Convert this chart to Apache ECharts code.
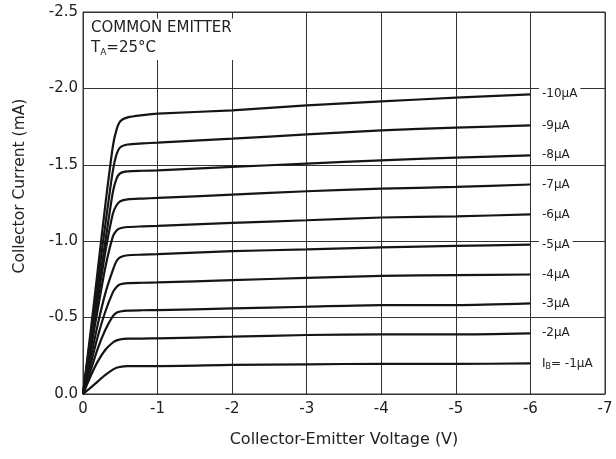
<!DOCTYPE html>
<html>
<head>
<meta charset="utf-8">
<script src="https://cdn.jsdelivr.net/npm/echarts@6/dist/echarts.min.js"></script>
<style>html,body{margin:0;padding:0;background:#fff}#c{width:616px;height:459px}</style>
</head>
<body>
<div id="c"></div>
<script>
// Collector-emitter voltage sample points (V)
const voltages = [0, -0.1, -0.2, -0.3, -0.4, -0.45, -0.5, -0.6, -0.8, -1, -2, -3, -4, -5, -6];
// Collector current (mA) for each base current curve
const ib1  = [0, -0.04, -0.083, -0.125, -0.16, -0.172, -0.178, -0.182, -0.183, -0.183, -0.190, -0.194, -0.198, -0.197, -0.200];
const ib2  = [0, -0.115, -0.215, -0.29, -0.337, -0.351, -0.358, -0.362, -0.363, -0.364, -0.375, -0.386, -0.390, -0.390, -0.397];
const ib3  = [0, -0.15, -0.30, -0.42, -0.51, -0.532, -0.54, -0.546, -0.548, -0.549, -0.560, -0.571, -0.582, -0.582, -0.593];
const ib4  = [0, -0.19, -0.38, -0.54, -0.665, -0.70, -0.718, -0.726, -0.728, -0.730, -0.745, -0.760, -0.773, -0.778, -0.782];
const ib5  = [0, -0.23, -0.46, -0.66, -0.81, -0.87, -0.895, -0.908, -0.912, -0.915, -0.935, -0.946, -0.959, -0.969, -0.978];
const ib6  = [0, -0.28, -0.56, -0.83, -1.03, -1.07, -1.085, -1.093, -1.097, -1.100, -1.120, -1.137, -1.155, -1.163, -1.175];
const ib7  = [0, -0.31, -0.62, -0.93, -1.18, -1.235, -1.262, -1.274, -1.279, -1.283, -1.305, -1.327, -1.344, -1.355, -1.371];
const ib8  = [0, -0.335, -0.67, -1.0, -1.32, -1.41, -1.445, -1.457, -1.461, -1.464, -1.486, -1.508, -1.529, -1.547, -1.562];
const ib9  = [0, -0.37, -0.74, -1.11, -1.46, -1.57, -1.615, -1.633, -1.64, -1.645, -1.671, -1.699, -1.725, -1.743, -1.758];
const ib10 = [0, -0.40, -0.82, -1.24, -1.62, -1.73, -1.785, -1.81, -1.825, -1.835, -1.856, -1.889, -1.915, -1.939, -1.961];
const curves = [ib1, ib2, ib3, ib4, ib5, ib6, ib7, ib8, ib9, ib10];
const curveLabels = ['{a|I}{s|B}{a|= -1μA}', '-2μA', '-3μA', '-4μA', '-5μA', '-6μA', '-7μA', '-8μA', '-9μA', '-10μA'];
const xTicks = [0, -1, -2, -3, -4, -5, -6, -7];

const FONT = 'DejaVu Sans';
const TXT = '#222';

const series = curves.map((c, i) => ({
  type: 'line',
  name: 'curve' + (i + 1),
  data: voltages.map((v, j) => {
    const item = { value: [v, c[j]] };
    if (j === voltages.length - 1) {
      item.label = {
        show: true,
        position: 'right',
        formatter: curveLabels[i],
        distance: 8,
        fontFamily: FONT,
        fontSize: 12,
        fontWeight: 'normal',
        color: TXT,
        backgroundColor: '#fff',
        padding: [2, 3],
        rich: {
          a: { fontFamily: FONT, fontSize: 12, color: TXT },
          s: { fontFamily: FONT, fontSize: 8, color: TXT, padding: [7, 0, 0, 0] }
        }
      };
    }
    return item;
  }),
  showSymbol: true,
  showAllSymbol: true,
  symbol: 'circle',
  symbolSize: 1,
  itemStyle: { color: 'rgba(0,0,0,0)', borderWidth: 0 },
  label: { show: false },
  smooth: 0.25,
  lineStyle: { color: '#151515', width: 2.2 },
  z: 3
}));

const chart = echarts.init(document.getElementById('c'), null, { renderer: 'canvas' });
chart.setOption({
  animation: false,
  backgroundColor: '#fff',
  title: {
    text: '{a|COMMON EMITTER}\n{a|T}{s|A}{a|=25°C}',
    left: 84,
    top: 16,
    backgroundColor: '#fff',
    padding: [2, 30, 3, 7],
    textStyle: {
      fontWeight: 'normal',
      rich: {
        a: { fontFamily: FONT, fontSize: 15, fontWeight: 'normal', lineHeight: 20, color: TXT },
        s: { fontFamily: FONT, fontSize: 9, fontWeight: 'normal', color: TXT, padding: [9, 0, 0, 0] }
      }
    },
    z: 6
  },
  grid: {
    left: 83, right: 11, top: 12, bottom: 65,
    show: true, borderColor: '#333', borderWidth: 1
  },
  xAxis: {
    type: 'value', inverse: true, min: -7, max: 0, interval: 1,
    name: 'Collector-Emitter Voltage (V)', nameLocation: 'middle', nameGap: 38,
    nameTextStyle: { fontFamily: FONT, fontSize: 16, color: TXT },
    axisLine: { show: true, lineStyle: { color: '#333' } },
    axisTick: { show: false },
    axisLabel: {
      margin: 8, fontFamily: FONT, fontSize: 15, color: TXT,
      formatter: v => xTicks.includes(v) ? (v === 0 ? '0' : String(v)) : ''
    },
    splitLine: { show: true, lineStyle: { color: '#333', width: 1 } }
  },
  yAxis: {
    type: 'value', inverse: true, min: -2.5, max: 0, interval: 0.5,
    name: 'Collector Current (mA)', nameLocation: 'middle', nameGap: 55,
    nameTextStyle: { fontFamily: FONT, fontSize: 15.5, color: TXT, padding: [0, 0, 0, 34] },
    axisLine: { show: true, lineStyle: { color: '#333' } },
    axisTick: { show: false },
    axisLabel: {
      margin: 5, fontFamily: FONT, fontSize: 15, color: TXT,
      formatter: v => (Math.abs(v) < 1e-9 ? '0.0' : v.toFixed(1))
    },
    splitLine: { show: true, lineStyle: { color: '#333', width: 1 } }
  },
  series: series
});
</script>
</body>
</html>
